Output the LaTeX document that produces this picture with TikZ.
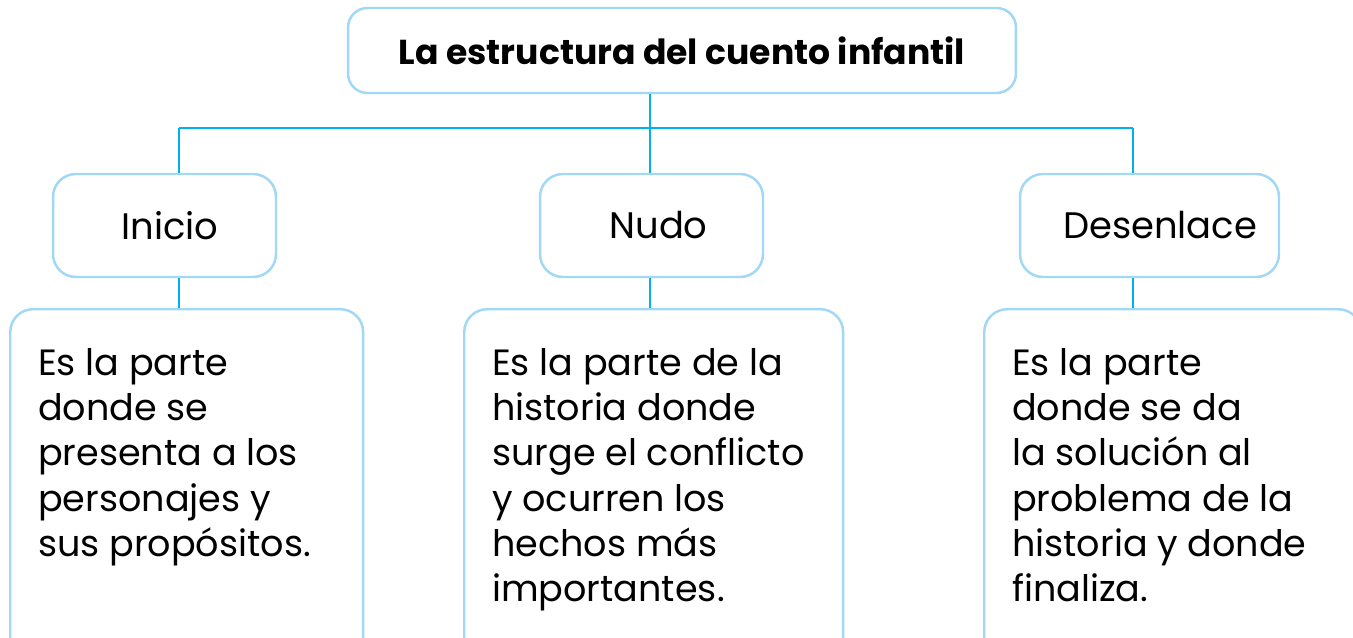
\documentclass[tikz,border=0pt]{standalone}
\usepackage{fontspec}
\setmainfont{Poppins}
\usepackage{xcolor}
\usepackage{tikz}
\usetikzlibrary{positioning}
\definecolor{boxblue}{RGB}{160,216,245}
\definecolor{lineblue}{RGB}{0,176,240}
\newcommand{\infotext}[2]{\parbox[t][6.4cm][t]{#1}{\raggedright #2}}

\begin{document}
\begin{tikzpicture}[
    x=0.02cm, y=-0.02cm,
    font=\fontsize{20.8}{25.8}\selectfont,
    box/.style={
        rectangle,
        rounded corners=13pt,
        draw=boxblue,
        line width=1.4pt,
        align=center,
        inner sep=0pt
    },
    title/.style ={box, minimum width=13.36cm, minimum height=1.7cm, rounded corners=11pt,
                   font=\fontsize{19.7}{24}\selectfont\bfseries},
    part/.style  ={box, minimum width=4.46cm, minimum height=2.06cm,
                   font=\fontsize{21}{26}\selectfont},
    info/.style  ={box, anchor=north west, align=left, inner xsep=0.56cm, inner ysep=0.78cm},
    link/.style={draw=lineblue, line width=1.1pt}
]
\path[use as bounding box, clip] (0,0) rectangle (1353,638);

\node[title] (title) at (682,50.5) {La estructura del cuento infantil};

\node[part] (inicio)    at (164.5,225.5)  {\hspace{6pt}Inicio};
\node[part] (nudo)      at (651.5,225.5)  {\hspace{8pt}Nudo};
\node[part, minimum width=5.18cm] (desenlace) at (1149.5,225.5) {\hspace{12pt}Desenlace};

\node[info] (inicioinfo) at (9,308)
    {\infotext{5.94cm}{Es la parte\\ donde se\\ presenta a los\\ personajes y\\ sus propósitos.}};
\node[info] (nudoinfo) at (463,308)
    {\infotext{6.46cm}{Es la parte de la\\ historia donde\\ surge el conflicto\\ y ocurren los\\ hechos más\\ importantes.}};
\node[info] (desenlaceinfo) at (983,308)
    {\infotext{6.42cm}{Es la parte\\ donde se da\\ la solución al\\ problema de la\\ historia y donde\\ finaliza.}};

% tree lines
\coordinate (fork)  at (650,128);
\coordinate (forkl) at (179,128);
\coordinate (forkr) at (1133,128);
\draw[link] (title.south -| fork) -- (fork);
\draw[link] (forkl) -- (forkr);
\draw[link] (forkl) -- (forkl |- inicio.north);
\draw[link] (fork)  -- (fork |- nudo.north);
\draw[link] (forkr) -- (forkr |- desenlace.north);

\draw[link] (forkl |- inicio.south)    -- (forkl |- inicioinfo.north);
\draw[link] (fork |- nudo.south)       -- (fork |- nudoinfo.north);
\draw[link] (forkr |- desenlace.south) -- (forkr |- desenlaceinfo.north);
\end{tikzpicture}
\end{document}
